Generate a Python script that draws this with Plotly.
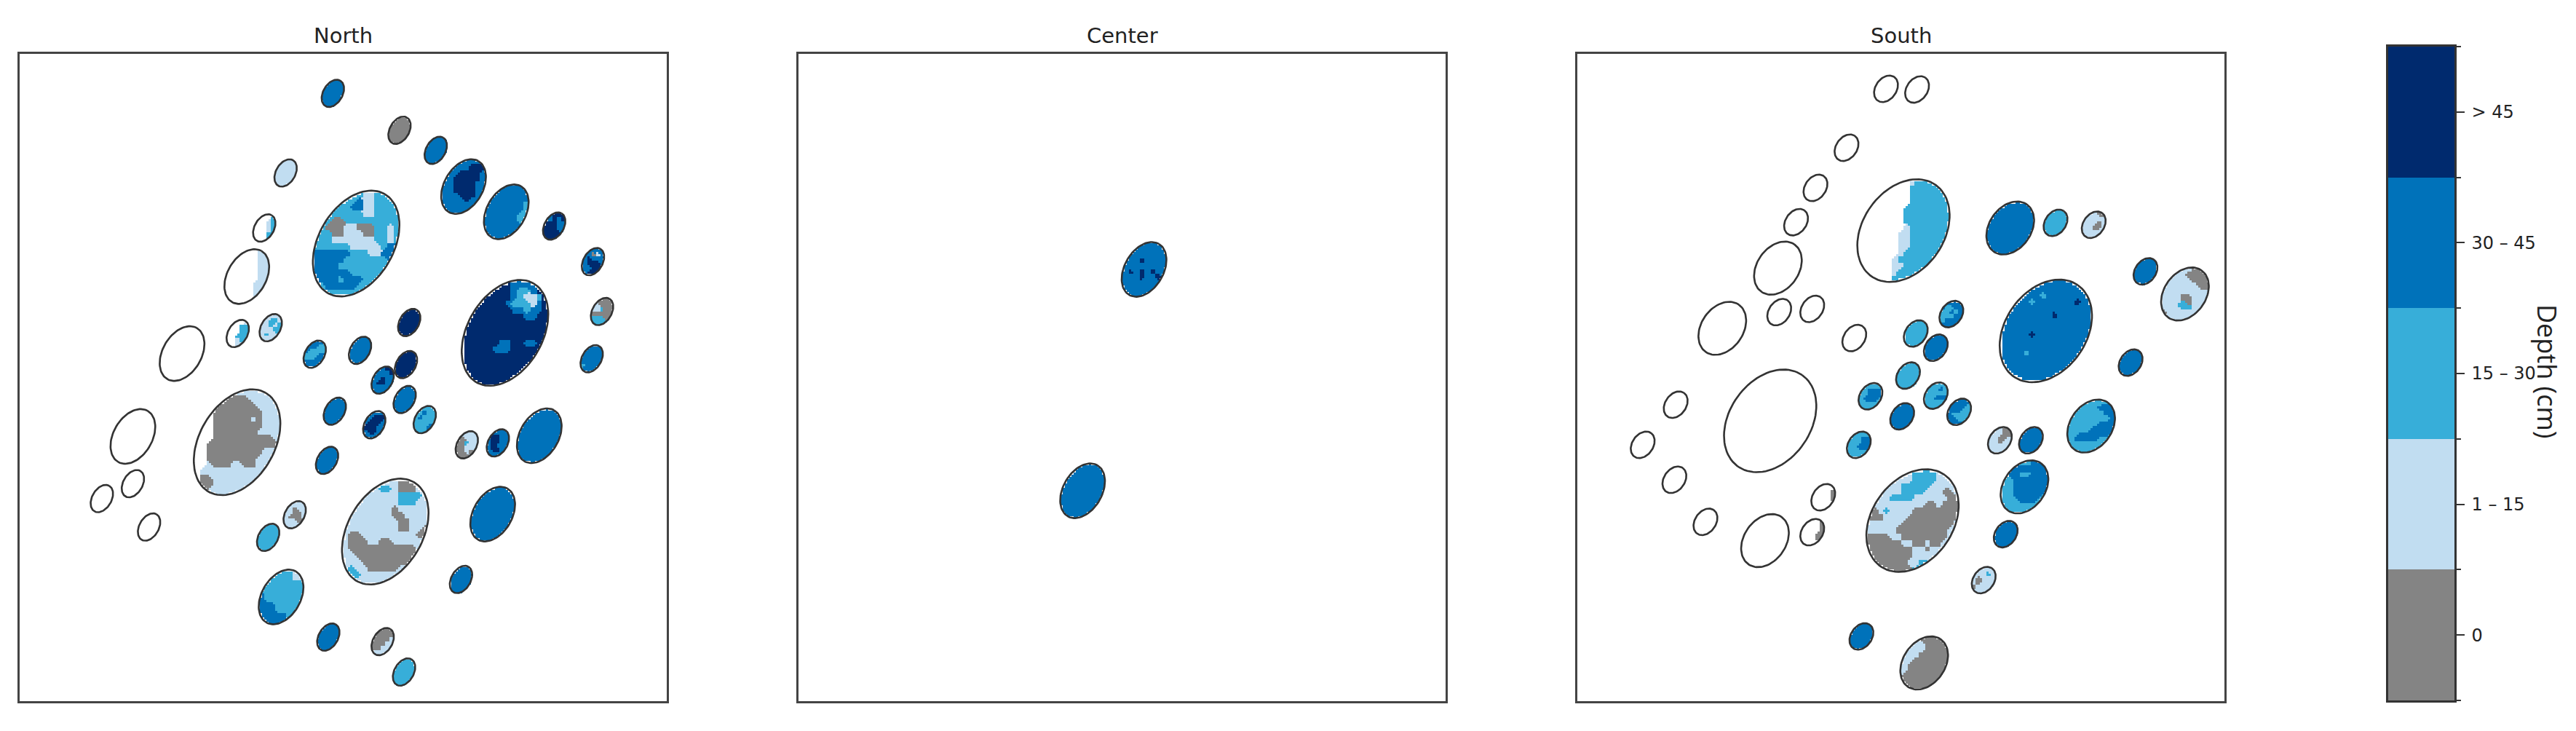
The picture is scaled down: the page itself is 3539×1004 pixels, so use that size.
import numpy as np
import plotly.graph_objects as go

WIDTH = 3539
HEIGHT = 1004
# the page body keeps its default 8px margin
PAGE_MARGIN = 8
PLOT_W = WIDTH - 2 * PAGE_MARGIN
PLOT_H = HEIGHT - 2 * PAGE_MARGIN

class_colors = ["#848484", "#c1ddf1", "#37aed9", "#0072ba", "#002a6e"]
class_labels = ["0", "1 \u2013 15", "15 \u2013 30", "30 \u2013 45", "> 45"]
panel_names = ["North", "Center", "South"]

# ellipse centres in panel units (0-100, y from the top), size class, fill
# fill = rows of depth classes split by "/", "." is no data
north_x = [48.4, 58.7, 64.3, 68.6, 75.2, 82.6, 88.6, 90.0, 88.4, 75.0, 52.0, 41.1, 37.8, 35.1, 33.7,
           38.8, 25.1, 45.6, 52.6, 60.2, 59.7, 56.1, 59.5, 62.6, 54.8, 48.7, 47.5, 69.1, 73.9, 80.3,
           73.1, 68.2, 56.5, 33.6, 17.5, 17.5, 12.7, 20.0, 42.5, 38.4, 40.4, 47.7, 56.1, 59.4]
north_y = [6.1, 11.8, 14.9, 20.5, 24.4, 26.6, 32.1, 39.8, 47.1, 43.1, 29.3, 18.4, 26.9, 34.4, 43.2,
           42.3, 46.3, 46.4, 45.8, 41.5, 48.0, 50.4, 53.4, 56.5, 57.3, 55.2, 62.8, 60.4, 60.1, 59.0,
           71.1, 81.2, 73.8, 60.0, 59.1, 66.4, 68.7, 73.1, 71.2, 74.7, 83.9, 90.1, 90.8, 95.5]
north_size = ["s", "s", "s", "m", "m", "s", "s", "s", "s", "l", "l", "s", "s", "m", "s",
              "s", "m", "s", "s", "s", "s", "s", "s", "s", "s", "s", "s", "s", "s", "m",
              "m", "s", "l", "l", "m", "s", "s", "s", "s", "s", "m", "s", "s", "s"]
north_fill = [
    "3", "0", "3",
    "33333333/33333444/33344443/33444443/33444433/33444433/33344433/33334333/33333333/33333333",
    "33333333/33333333/33333333/33333332/33333332/33333322/33333322/33333332/33333333/33333333",
    "33444/33434/44433/44433/44443/44444",
    "33333/33013/34333/34443/33443/34433",
    "00000/11000/11200/00000/22200/22220",
    "22333/33333/33333/33333/23333/33333",
    "44444444333344/44444444322344/44444444321124/44444443222134/44444444332334/44444444443344/"
    "44444444444444/44444444444444/44444444444444/44444433443344/44444333444444/44444444444444/"
    "44444444444444/44444444444444/44444444444444/44444444444444",
    "22222222112222/22222223112222/22222233112222/22222222112222/22200222222222/22000110002212/"
    "22200111002212/22211111112212/22222211111233/33333322211333/33333222222233/33332222222222/"
    "33333322222222/33332333222222/22333332222222/22222222222222",
    "1",
    "....2/...12/...12/...12/...22/...22",
    "......11/......11/......11/......11/......11/......11/.....111/.....111/.....111/.....111",
    "....1/...22/...22/..222/..122/..11.",
    "11111/11221/11212/11122/12112/11111",
    ".",
    "33333/33322/32222/22233/33333/33333",
    "3", "4", "4",
    "33344/33334/33433/34433/33333/33333",
    "3",
    "22222/22322/23222/22222/22233/22233",
    "33333/33444/34443/44433/34433/33333",
    "3", "3",
    "01111/00111/00211/00111/00101/00011",
    "33333/34433/34433/34333/34433/33333",
    "3", "3", "3",
    "11111111100011/11111122100011/11111111122221/11111111122211/11111111011111/11111111001111/"
    "11111111100111/11111111100110/10011111111100/10001100111111/10000000000011/11000000000001/"
    "11100000000111/12110000011111/12211111111111/11111111111111",
    "....0011111111/....0000011111/....0000001111/...00000000111/...00000010111/...00000000111/"
    "...00000001111/...00000000001/..000000000000/..000000000111/..000000001111/..100011001111/"
    ".1111111111111/.0011111111111/.0011111111111/11111111111111",
    ".", ".", ".", ".",
    "11111/11011/11001/10001/11100/11111",
    "2",
    "22222211/22222211/22222222/22222222/32222222/32222222/33322222/33322222/33333222/33333222",
    "3",
    "00000/00000/00001/00011/00111/11111",
    "2",
]

center_x = [53.4, 43.9]
center_y = [33.3, 67.5]
center_size = ["m", "m"]
center_fill = [
    "33333333/33333333/33333333/33343333/33333333/34343433/33343343/33333333/33333333/33333333",
    "3",
]

south_x = [47.7, 52.5, 41.6, 36.8, 33.8, 31.0, 22.4, 31.2, 36.3, 42.8, 50.4, 66.9, 73.9, 79.8, 87.8,
           93.9, 72.4, 85.5, 57.8, 52.3, 55.4, 51.1, 45.3, 55.4, 59.0, 50.2, 43.5, 65.3, 70.1, 79.4,
           69.1, 66.2, 62.8, 51.8, 29.8, 15.2, 10.1, 15.0, 19.8, 29.0, 36.3, 38.0, 43.9, 53.6]
south_y = [5.4, 5.5, 14.5, 20.7, 26.0, 33.1, 42.4, 39.9, 39.4, 43.9, 27.3, 26.9, 26.1, 26.4, 33.6,
           37.1, 42.8, 47.7, 40.2, 43.2, 45.4, 49.7, 52.9, 52.8, 55.3, 56.0, 60.4, 59.7, 59.7, 57.5,
           66.9, 74.2, 81.3, 72.1, 56.7, 54.2, 60.4, 65.8, 72.3, 75.2, 73.9, 68.5, 90.0, 94.1]
south_size = ["s", "s", "s", "s", "s", "m", "m", "s", "s", "s", "l", "m", "s", "s", "s",
              "m", "l", "s", "s", "s", "s", "s", "s", "s", "s", "s", "s", "s", "s", "m",
              "m", "s", "s", "l", "l", "s", "s", "s", "s", "m", "s", "s", "s", "m"]
south_fill = [
    ".", ".", ".", ".", ".", ".", ".", ".", ".", ".",
    ".........1222222/.........2222222/.........2222222/.........2222222/........22222222/........22222222/"
    "........22222222/........12222222/.......112222222/.......112222222/.......112222222/.......122222222/"
    "......1222222222/......1122222222/......1222222222/......2222222222",
    "3", "2",
    "11100/11111/11101/11001/11111/11111",
    "3",
    "11111000/11110000/11111000/11111100/11111111/11100111/11120111/11122111/01111111/11111111",
    "3333333333333333/3333333333333333/3333333233333333/3333323333333433/3333333333333333/3333333334333333/"
    "3333333333333333/3333333333333333/3333343333333333/3333333333333333/3333333333333333/3333233333333333/"
    "3333333333333333/3333333333333333/3333333333333333/3333333333333333",
    "3",
    "33333/32233/22323/22233/23333/33333",
    "2", "3", "2",
    "22222/22333/22333/23332/22222/22222",
    "22222/22232/22222/22333/22222/22222",
    "33333/33332/33322/32222/33222/33333",
    "3",
    "22222/22233/22233/22333/22222/22222",
    "11100/11100/11001/11011/11111/11111",
    "3",
    "22222222/22222333/22222233/22222223/22222333/22223333/22333332/23333222/22222222/22222222",
    "22222333/22333333/23322333/22333333/22333333/22333333/22333332/22233322/22222222/22222222",
    "3",
    "11111/11121/10111/10111/01111/11111",
    "1111111122221111/1111111122221111/1111112222211111/1111112222111001/1111222211111100/1111111111001000/"
    "1012111100000000/0001111000000000/1111110000000001/1111100000000011/0000110000000011/0000001100100111/"
    "0000000011011111/0000000011111111/0100000112211111/1100000022111111",
    ".", ".", ".", ".", ".", ".",
    "....0/....0/....0/...00/...0./.....",
    "...../....0/....0/....0/...../.....",
    "3",
    "11000000/11110000/11110000/11100000/11000000/10000000/10000000/00000000/00000000/00000000",
]

# tilt from vertical (deg), semi axes of a small ellipse, scale per size class
panel_tilt = [30, 30, 35]
panel_axes = [(2.28, 1.50), (2.28, 1.50), (2.23, 1.62)]
size_scale = {"s": 1.0, "m": 2.0, "l": 3.87}

panel_data = [
    (north_x, north_y, north_size, north_fill),
    (center_x, center_y, center_size, center_fill),
    (south_x, south_y, south_size, south_fill),
]

# axes boxes in page pixels: left, right, top, bottom
panel_boxes = [(27, 916, 74, 963), (1097, 1986, 74, 963), (2167, 3056, 74, 963)]
bar_box = (3281, 3372, 64, 962)


def px_x(x):
    return (x - PAGE_MARGIN) / PLOT_W


def px_y(y):
    return 1 - (y - PAGE_MARGIN) / PLOT_H


def read_grid(rows, fr, fc):
    # round off the grid steps: vote between the four nearest grid cells
    # 5 stands for no data
    grid = np.array([[5 if ch == "." else int(ch) for ch in row] for row in rows])
    nr, nc = grid.shape
    fr = np.clip(fr * nr - 0.5, 0, nr - 1)
    fc = np.clip(fc * nc - 0.5, 0, nc - 1)
    r0 = np.floor(fr).astype(int)
    c0 = np.floor(fc).astype(int)
    r1 = np.minimum(r0 + 1, nr - 1)
    c1 = np.minimum(c0 + 1, nc - 1)
    wr = fr - r0
    wc = fc - c0
    votes = np.zeros((6, len(fr)))
    idx = np.arange(len(fr))
    np.add.at(votes, (grid[r0, c0], idx), (1 - wr) * (1 - wc))
    np.add.at(votes, (grid[r0, c1], idx), (1 - wr) * wc)
    np.add.at(votes, (grid[r1, c0], idx), wr * (1 - wc))
    np.add.at(votes, (grid[r1, c1], idx), wr * wc)
    return votes.argmax(axis=0)


def raster_panel(xs, ys, sizes, fills, tilt, axes):
    t = np.radians(tilt)
    cells = np.arange(0.17, 100, 0.34)
    gx, gy = np.meshgrid(cells, cells)
    z = np.full(gx.shape, np.nan)
    for cx, cy, size, fill in zip(xs, ys, sizes, fills):
        a = axes[0] * size_scale[size]
        b = axes[1] * size_scale[size]
        hw = np.sqrt((a * np.sin(t)) ** 2 + (b * np.cos(t)) ** 2)
        hh = np.sqrt((a * np.cos(t)) ** 2 + (b * np.sin(t)) ** 2)
        dx = gx - cx
        dy = gy - cy
        along = dx * np.sin(t) - dy * np.cos(t)
        across = dx * np.cos(t) + dy * np.sin(t)
        inside = (along / a) ** 2 + (across / b) ** 2 <= 0.94
        vals = read_grid(fill.split("/"), (dy[inside] + hh) / (2 * hh), (dx[inside] + hw) / (2 * hw))
        z[inside] = np.where(vals == 5, np.nan, vals)
    return cells, z


def outline(cx, cy, size, tilt, axes):
    t = np.radians(tilt)
    a = axes[0] * size_scale[size]
    b = axes[1] * size_scale[size]
    p = np.linspace(0, 2 * np.pi, 90)
    x = cx + a * np.cos(p) * np.sin(t) + b * np.sin(p) * np.cos(t)
    y = cy - a * np.cos(p) * np.cos(t) + b * np.sin(p) * np.sin(t)
    return x, y


n = len(class_colors)
colorscale = []
for i, c in enumerate(class_colors):
    colorscale.append([i / n, c])
    colorscale.append([(i + 1) / n, c])

fig = go.Figure()
layout_axes = {}

for k, name in enumerate(panel_names):
    suffix = "" if k == 0 else str(k + 1)
    xs, ys, sizes, fills = panel_data[k]
    cells, z = raster_panel(xs, ys, sizes, fills, panel_tilt[k], panel_axes[k])
    z_rows = [[None if np.isnan(v) else int(v) for v in row] for row in z]
    fig.add_trace(go.Heatmap(x=cells, y=cells, z=z_rows, colorscale=colorscale, zmin=-0.5, zmax=4.5,
                             showscale=False, hoverongaps=False, xaxis="x" + suffix, yaxis="y" + suffix))
    for cx, cy, size in zip(xs, ys, sizes):
        ox, oy = outline(cx, cy, size, panel_tilt[k], panel_axes[k])
        fig.add_trace(go.Scatter(x=ox, y=oy, mode="lines", line=dict(color="#333333", width=2.6),
                                 hoverinfo="skip", showlegend=False, xaxis="x" + suffix, yaxis="y" + suffix))
    box = panel_boxes[k]
    layout_axes["xaxis" + suffix] = dict(domain=[px_x(box[0]), px_x(box[1])], range=[0, 100], showticklabels=False,
                                         ticks="", showgrid=False, zeroline=False, showline=True, mirror=True,
                                         linecolor="#444444", linewidth=2.5, anchor="y" + suffix)
    layout_axes["yaxis" + suffix] = dict(domain=[px_y(box[3]), px_y(box[2])], range=[100, 0], showticklabels=False,
                                         ticks="", showgrid=False, zeroline=False, showline=True, mirror=True,
                                         linecolor="#444444", linewidth=2.5, anchor="x" + suffix)

# colour bar drawn as its own small heatmap so the boundary ticks can be shorter
fig.add_trace(go.Heatmap(x=[0], y=list(range(n)), z=[[i] for i in range(n)], colorscale=colorscale,
                         zmin=-0.5, zmax=4.5, showscale=False, hoverinfo="skip", xaxis="x4", yaxis="y4"))
layout_axes["xaxis4"] = dict(domain=[px_x(bar_box[0]), px_x(bar_box[1])], range=[-0.5, 0.5], showticklabels=False,
                             ticks="", showgrid=False, zeroline=False, showline=True, mirror=True,
                             linecolor="#333333", linewidth=2.5, anchor="y4")
layout_axes["yaxis4"] = dict(domain=[px_y(bar_box[3]), px_y(bar_box[2])], range=[-0.5, 4.5], side="right", anchor="x4",
                             tickmode="array", tickvals=list(range(n)), ticktext=class_labels,
                             ticks="outside", ticklen=11, tickwidth=2, tickcolor="#333333", ticklabelstandoff=5,
                             minor=dict(tickmode="array", tickvals=[-0.5, 0.5, 1.5, 2.5, 3.5, 4.5],
                                        ticks="outside", ticklen=6, tickwidth=2, tickcolor="#333333"),
                             tickfont=dict(family="DejaVu Sans", size=24, color="#222222"),
                             showgrid=False, zeroline=False, showline=True, mirror=True,
                             linecolor="#333333", linewidth=2.5)

annotations = []
for k, name in enumerate(panel_names):
    box = panel_boxes[k]
    annotations.append(dict(text=name, xref="paper", yref="paper", x=px_x((box[0] + box[1]) / 2), y=px_y(49),
                            xanchor="center", yanchor="middle", showarrow=False,
                            font=dict(family="DejaVu Sans", size=29, color="#222222")))
annotations.append(dict(text="Depth (cm)", xref="paper", yref="paper", x=px_x(3499), y=px_y(510),
                        xanchor="center", yanchor="middle", showarrow=False, textangle=90,
                        font=dict(family="Open Sans", size=36, color="#222222")))

fig.update_layout(width=PLOT_W, height=PLOT_H, margin=dict(l=0, r=0, t=0, b=0), paper_bgcolor="white",
                  plot_bgcolor="white", showlegend=False, annotations=annotations, **layout_axes)

fig.write_html("out.html")
